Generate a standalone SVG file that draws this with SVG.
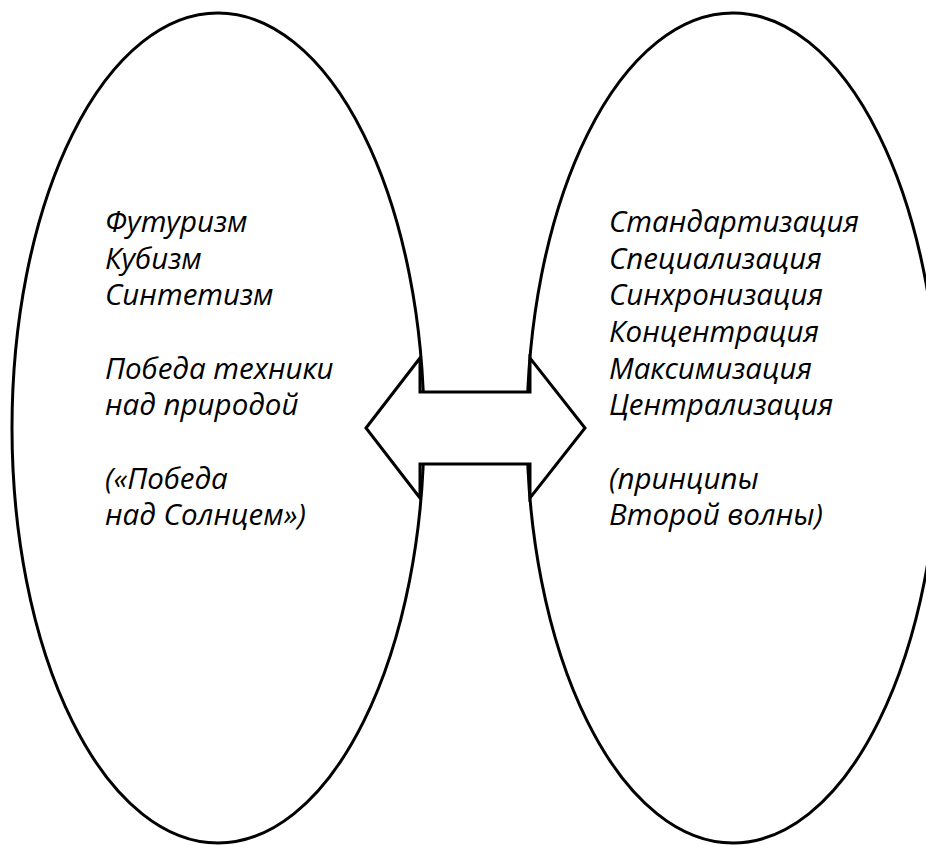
<svg xmlns="http://www.w3.org/2000/svg" width="926" height="845" viewBox="0 0 926 845">
<style>
.shape{fill:#fff;stroke:#000;stroke-width:3}
.t{font-family:"Open Sans","Noto Sans","Liberation Sans",sans-serif;font-style:italic;font-size:29.5px;fill:#000}
</style>
<rect width="926" height="845" fill="#fff"/>
<g id="left">
<ellipse class="shape" cx="218" cy="428" rx="206" ry="415"/>
<text class="t" x="105"><tspan x="105" y="232">Футуризм</tspan><tspan x="105" y="269">Кубизм</tspan><tspan x="105" y="305">Синтетизм</tspan><tspan x="105" y="379">Победа техники</tspan><tspan x="105" y="415">над природой</tspan><tspan x="105" y="489">(«Победа</tspan><tspan x="105" y="525">над Солнцем»)</tspan></text>
</g>
<g id="right">
<ellipse class="shape" cx="733" cy="428" rx="206" ry="415"/>
<text class="t" x="609"><tspan x="609" y="232">Стандартизация</tspan><tspan x="609" y="269">Специализация</tspan><tspan x="609" y="305">Синхронизация</tspan><tspan x="609" y="342">Концентрация</tspan><tspan x="609" y="379">Максимизация</tspan><tspan x="609" y="415">Централизация</tspan><tspan x="609" y="489">(принципы</tspan><tspan x="609" y="525">Второй волны)</tspan></text>
</g>
<g id="connectors">
<polygon class="shape" stroke-linejoin="miter" points="366,428 420,358 420,392 530,392 530,358 585,428 530,498 530,464 420,464 420,498"/>
</g>
</svg>
